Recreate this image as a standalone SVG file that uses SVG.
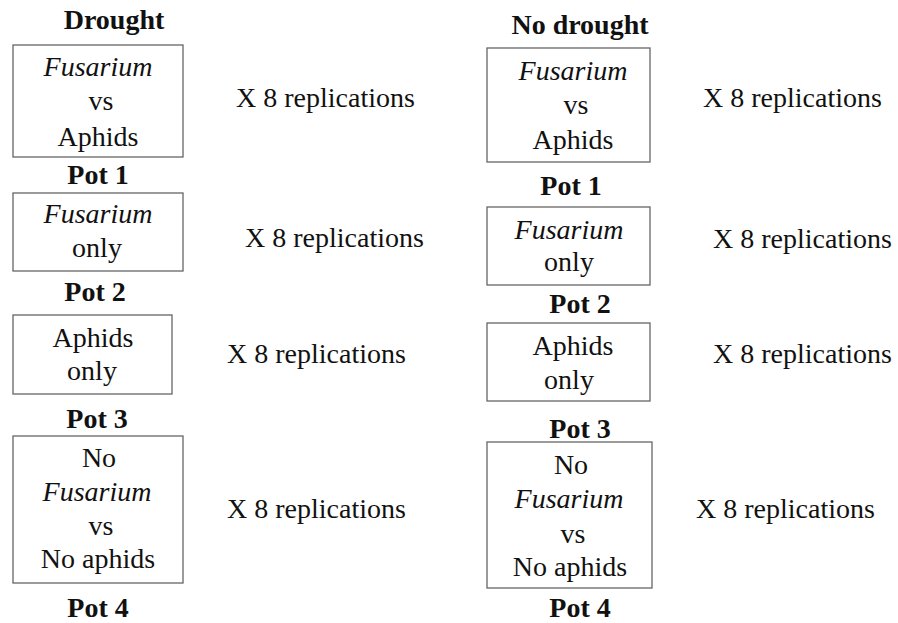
<svg xmlns="http://www.w3.org/2000/svg" width="898" height="623" viewBox="0 0 898 623">
<style>
text{font-family:"Liberation Serif","Times New Roman",serif;font-size:28px;fill:#111;text-anchor:middle}
.b{font-weight:bold}
.i{font-style:italic}
.rep{text-anchor:start}
rect{fill:none;stroke:#666;stroke-width:1.3}
</style>
<rect width="898" height="623" fill="#fff" style="stroke:none"/>
<g id="left">
<text class="b" x="114" y="29">Drought</text>
<g id="l-pot1">
<rect x="13" y="45" width="170" height="112"/>
<text class="i" x="98" y="76">Fusarium</text>
<text x="101" y="110">vs</text>
<text x="98" y="146">Aphids</text>
<text class="b" x="98" y="184">Pot 1</text>
<text class="rep" x="236" y="107">X 8 replications</text>
</g>
<g id="l-pot2">
<rect x="13" y="193" width="170" height="78"/>
<text class="i" x="98" y="223">Fusarium</text>
<text x="97" y="257">only</text>
<text class="b" x="95" y="301">Pot 2</text>
<text class="rep" x="245" y="247">X 8 replications</text>
</g>
<g id="l-pot3">
<rect x="13" y="315" width="159" height="79"/>
<text x="93" y="347">Aphids</text>
<text x="92" y="380">only</text>
<text class="b" x="97" y="428">Pot 3</text>
<text class="rep" x="227" y="363">X 8 replications</text>
</g>
<g id="l-pot4">
<rect x="13" y="436" width="170" height="147"/>
<text x="99" y="467">No</text>
<text class="i" x="97" y="501">Fusarium</text>
<text x="101" y="535">vs</text>
<text x="98" y="568">No aphids</text>
<text class="b" x="98" y="617">Pot 4</text>
<text class="rep" x="227" y="518">X 8 replications</text>
</g>
</g>
<g id="right">
<text class="b" x="580" y="34">No drought</text>
<g id="r-pot1">
<rect x="487" y="48" width="163" height="114"/>
<text class="i" x="573" y="80">Fusarium</text>
<text x="576" y="114">vs</text>
<text x="573" y="149">Aphids</text>
<text class="b" x="571" y="195">Pot 1</text>
<text class="rep" x="703" y="107">X 8 replications</text>
</g>
<g id="r-pot2">
<rect x="487" y="207" width="163" height="78"/>
<text class="i" x="569" y="239">Fusarium</text>
<text x="569" y="271">only</text>
<text class="b" x="580" y="313">Pot 2</text>
<text class="rep" x="713" y="248">X 8 replications</text>
</g>
<g id="r-pot3">
<rect x="487" y="323" width="163" height="78"/>
<text x="573" y="355">Aphids</text>
<text x="569" y="389">only</text>
<text class="b" x="580" y="438">Pot 3</text>
<text class="rep" x="713" y="363">X 8 replications</text>
</g>
<g id="r-pot4">
<rect x="487" y="442" width="165" height="146"/>
<text x="571" y="474">No</text>
<text class="i" x="569" y="508">Fusarium</text>
<text x="573" y="543">vs</text>
<text x="570" y="576">No aphids</text>
<text class="b" x="580" y="617">Pot 4</text>
<text class="rep" x="696" y="518">X 8 replications</text>
</g>
</g>
<g id="connectors"/>
</svg>
